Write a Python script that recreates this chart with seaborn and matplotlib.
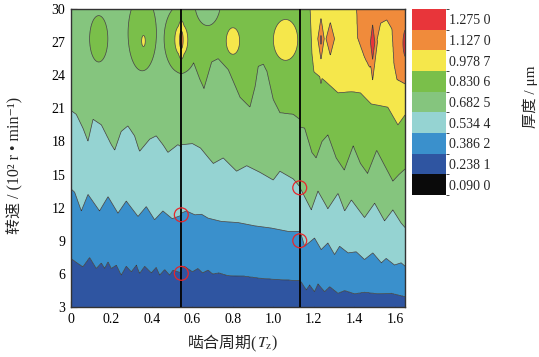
import numpy as np
import matplotlib
matplotlib.use("Agg")
import matplotlib.pyplot as plt
from matplotlib.colors import ListedColormap, BoundaryNorm
import seaborn as sns

sns.set_style("ticks")
plt.rcParams["font.family"] = ["Liberation Serif", "Noto Sans CJK SC", "DejaVu Sans"]
plt.rcParams["mathtext.fontset"] = "stix"

# thickness levels (um) and colours of the colour bar
levels = [0.0900, 0.2381, 0.3862, 0.5344, 0.6825, 0.8306, 0.9787, 1.1270, 1.2750, 1.45]
level_labels = ["0.090 0", "0.238 1", "0.386 2", "0.534 4", "0.682 5",
                "0.830 6", "0.978 7", "1.127 0", "1.275 0"]
colors = ["#0a0a0a", "#2f55a1", "#3a90cc", "#95d3d2", "#85c57e",
          "#7abf4a", "#f5e74b", "#f08b3b", "#e8353a"]

# meshing-period segments (vertical lines at the joins)
seg_edges = [0.0, 0.545, 1.13, 1.65]

# boundary curves: speed (10^2 r/min) where the colour changes
# segment 1
s1_b1_x = [0, .03, .059, .092, .125, .15, .166, .183, .199, .224, .248, .273, .298, .323, .339, .364, .397, .421, .438, .463, .487, .504, .545]
s1_b1_y = [7.4, 7.0, 6.65, 7.5, 6.5, 7.0, 6.5, 7.1, 6.5, 6.8, 5.9, 6.7, 6.2, 6.8, 6.05, 6.7, 6.1, 6.6, 5.9, 6.4, 5.9, 6.35, 6.1]
s1_b2_x = [0, .018, .051, .084, .141, .183, .232, .273, .331, .372, .413, .454, .50, .545]
s1_b2_y = [13.7, 13.4, 11.7, 13.2, 11.7, 13.0, 11.5, 12.6, 11.2, 12.1, 10.9, 11.7, 11.0, 11.3]
s1_b3_x = [0, .026, .059, .084, .109, .15, .199, .216, .248, .281, .314, .331, .339, .389, .421, .454, .479, .528, .545]
s1_b3_y = [20.8, 20.45, 19.2, 18.0, 20.0, 19.5, 17.7, 17.2, 18.9, 19.4, 18.5, 17.5, 17.1, 18.2, 18.5, 17.7, 17.0, 17.7, 17.5]
s1_b4_x, s1_b4_y = [0, .545], [34, 34]
s1_b5_x, s1_b5_y = [0, .545], [36, 36]
s1_b6_x, s1_b6_y = [0, .545], [38, 38]

# segment 2
s2_b1_x = [.545, .56, .6, .627, .65, .677, .7, .73, .775, .857, .94, 1.022, 1.13]
s2_b1_y = [6.5, 6.7, 6.2, 6.5, 6.1, 6.35, 6.0, 6.1, 5.85, 5.8, 5.6, 5.5, 5.4]
s2_b2_x = [.545, .57, .612, .645, .677, .743, .825, .908, .99, 1.072, 1.13]
s2_b2_y = [11.5, 11.7, 11.35, 11.4, 11.05, 10.75, 10.65, 10.35, 10.15, 9.85, 9.85]
s2_b3_x = [.545, .6, .64, .68, .703, .752, .818, .868, .933, .999, 1.032, 1.098, 1.13]
s2_b3_y = [17.7, 17.8, 17.4, 16.5, 16.0, 16.5, 15.3, 15.8, 15.2, 14.5, 15.3, 14.6, 13.9]
s2_b4_x = [.545, .558, .596, .637, .657, .695, .727, .777, .835, .884, .91, .925, .95, .966, .999, 1.032, 1.098, 1.13]
s2_b4_y = [24.5, 25.7, 25.6, 23.6, 22.8, 25.2, 25.5, 24.5, 22.0, 21.1, 23.0, 24.8, 25.0, 24.5, 21.8, 20.6, 20.45, 20.0]
s2_b5_x, s2_b5_y = [.545, 1.13], [36, 36]
s2_b6_x, s2_b6_y = [.545, 1.13], [38, 38]

# segment 3
s3_b1_x = [1.13, 1.137, 1.162, 1.179, 1.203, 1.22, 1.253, 1.278, 1.319, 1.352, 1.401, 1.45, 1.516, 1.582, 1.65]
s3_b1_y = [5.2, 5.3, 4.55, 5.0, 4.4, 5.1, 4.4, 4.85, 4.25, 4.5, 4.2, 4.35, 4.2, 4.25, 3.95]
s3_b2_x = [1.13, 1.137, 1.154, 1.203, 1.236, 1.269, 1.302, 1.327, 1.369, 1.409, 1.45, 1.491, 1.533, 1.557, 1.598, 1.631, 1.65]
s3_b2_y = [9.3, 9.55, 8.5, 9.25, 8.2, 8.8, 7.75, 8.5, 7.9, 8.0, 7.3, 7.9, 7.0, 7.4, 6.8, 7.0, 6.7]
s3_b3_x = [1.13, 1.14, 1.187, 1.22, 1.269, 1.319, 1.352, 1.385, 1.45, 1.5, 1.549, 1.59, 1.631, 1.65]
s3_b3_y = [13.8, 13.5, 11.8, 13.5, 11.9, 13.3, 11.7, 12.7, 11.1, 12.4, 10.8, 11.8, 10.6, 10.2]
s3_b4_x = [1.13, 1.154, 1.19, 1.211, 1.24, 1.269, 1.31, 1.35, 1.394, 1.43, 1.465, 1.51, 1.55, 1.59, 1.62, 1.65]
s3_b4_y = [19.3, 19.2, 17.0, 16.5, 18.0, 18.6, 16.5, 15.4, 17.6, 16.0, 15.1, 17.2, 15.8, 14.4, 15.0, 15.5]
s3_b5_x = [1.13, 1.175, 1.19, 1.2, 1.253, 1.319, 1.385, 1.43, 1.483, 1.565, 1.615, 1.65]
s3_b5_y = [34, 33, 26, 24.3, 23.5, 22.4, 22.5, 22.4, 21.4, 21.1, 19.5, 20.4]
s3_b6_x = [1.13, 1.40, 1.41, 1.415, 1.45, 1.475, 1.50, 1.51, 1.53, 1.56, 1.585, 1.595, 1.61, 1.65]
s3_b6_y = [38, 38, 30.5, 27.4, 25.6, 24.7, 25.0, 27.0, 28.7, 29.0, 28.2, 25.0, 23.6, 23.2]

# closed islands near 2700 r/min: centre, half sizes, level index of their edge
isl_x = [0.137, 0.352, 0.358, 0.545, 0.545, 0.545, 0.80, 1.06, 1.235, 1.235, 1.281, 1.49, 1.665]
isl_y = [27.3, 27.8, 27.1, 27.3, 27.2, 27.2, 27.1, 27.2, 27.3, 27.2, 27.3, 27.0, 26.9]
isl_wx = [0.045, 0.07, 0.009, 0.085, 0.032, 0.009, 0.033, 0.06, 0.016, 0.003, 0.021, 0.011, 0.025]
isl_wy = [2.1, 3.4, 0.5, 3.1, 1.4, 0.8, 1.2, 1.85, 1.9, 0.4, 1.5, 1.6, 1.5]
isl_lvl = [5, 5, 6, 5, 6, 7, 6, 6, 7, 8, 7, 8, 8]
isl_p = [2, 2, 2, 2, 2, 2, 2, 2, 1, 2, 1, 1, 2]
# light green lobe hanging from the top in segment 2
lobe_x, lobe_y, lobe_wx, lobe_wy = [0.675], [30.8], [0.065], [2.3]

# red circles at the segment joins
circ_x = [0.545, 0.545, 1.13, 1.13]
circ_y = [11.35, 6.05, 13.8, 9.0]

x_ticks = [0, 0.2, 0.4, 0.6, 0.8, 1.0, 1.2, 1.4, 1.6]
x_tick_labels = ["0", "0.2", "0.4", "0.6", "0.8", "1.0", "1.2", "1.4", "1.6"]
y_ticks = [3, 6, 9, 12, 15, 18, 21, 24, 27, 30]

segments = [
    [(s1_b1_x, s1_b1_y), (s1_b2_x, s1_b2_y), (s1_b3_x, s1_b3_y), (s1_b4_x, s1_b4_y), (s1_b5_x, s1_b5_y), (s1_b6_x, s1_b6_y)],
    [(s2_b1_x, s2_b1_y), (s2_b2_x, s2_b2_y), (s2_b3_x, s2_b3_y), (s2_b4_x, s2_b4_y), (s2_b5_x, s2_b5_y), (s2_b6_x, s2_b6_y)],
    [(s3_b1_x, s3_b1_y), (s3_b2_x, s3_b2_y), (s3_b3_x, s3_b3_y), (s3_b4_x, s3_b4_y), (s3_b5_x, s3_b5_y), (s3_b6_x, s3_b6_y)],
]

yy = np.linspace(3, 30, 541)
knot_vals = [0.30] + levels[2:8] + [1.2]


def seg_field(k, curves):
    xx = np.linspace(seg_edges[k], seg_edges[k + 1], 330)
    bnds = [np.interp(xx, bx, by) for bx, by in curves]
    Z = np.empty((len(yy), len(xx)))
    for i in range(len(xx)):
        knots = [-10] + [b[i] for b in bnds] + [50]
        Z[:, i] = np.interp(yy, knots, knot_vals)
    X, Y = np.meshgrid(xx, yy)
    for cx, cy, wx, wy in zip(lobe_x, lobe_y, lobe_wx, lobe_wy):
        r2 = ((X - cx) / wx) ** 2 + ((Y - cy) / wy) ** 2
        Z = np.minimum(Z, levels[5] + 0.04 * (r2 - 1))
    for cx, cy, wx, wy, lv, p in zip(isl_x, isl_y, isl_wx, isl_wy, isl_lvl, isl_p):
        r = (np.abs((X - cx) / wx) ** p + np.abs((Y - cy) / wy) ** p) ** (1.0 / p)
        Z = np.maximum(Z, levels[lv] + 0.04 * (1 - r ** 2))
    return X, Y, Z


fig = plt.figure(figsize=(5.39, 3.57), dpi=100)
ax = fig.add_axes([0.1317, 0.1401, 0.6197, 0.8347])

cmap = ListedColormap(colors)
norm = BoundaryNorm(levels, cmap.N)

for k, curves in enumerate(segments):
    X, Y, Z = seg_field(k, curves)
    ax.contourf(X, Y, Z, levels=levels, colors=colors, antialiased=True)
    ax.contour(X, Y, Z, levels=levels[1:-1], colors="#3a3a3a", linewidths=0.5)

for xv in seg_edges[1:3]:
    ax.axvline(xv, color="black", lw=1.3, zorder=4)

ax.scatter(circ_x, circ_y, s=100, facecolors="none", edgecolors="#e8262a",
           linewidths=0.9, zorder=5)

ax.set_xlim(0, 1.65)
ax.set_ylim(3, 30)
ax.set_xticks(x_ticks)
ax.set_xticklabels(x_tick_labels)
ax.set_yticks(y_ticks)
ax.tick_params(direction="in", length=4, width=0.8, labelsize=10, pad=4, colors="black")
for sp in ax.spines.values():
    sp.set_linewidth(1.0)
    sp.set_color("#333333")

cax = fig.add_axes([0.7644, 0.4538, 0.0631, 0.521])
sm = plt.cm.ScalarMappable(norm=norm, cmap=cmap)
centers = [(levels[i] + levels[i + 1]) / 2 for i in range(9)]
cb = fig.colorbar(sm, cax=cax, ticks=centers)
cb.set_ticklabels(level_labels)
cb.ax.tick_params(length=0, labelsize=10, pad=2)
cb.outline.set_visible(False)

fig.text(530 / 539, 1 - 97 / 357, "厚度 / μm", rotation=90, ha="center", va="center", fontsize=11)
fig.text(14 / 539, 1 - 165 / 357, "转速 / (10² r • min⁻¹)", rotation=90,
         ha="center", va="center", fontsize=11.5)
# x label in two pieces so the CJK part stays plain text
fig.text(257 / 539, 1 - 343 / 357, "啮合周期(", ha="right", va="center", fontsize=11.5)
fig.text(257 / 539, 1 - 343 / 357, "$T_{\\mathrm{z}}$)", ha="left", va="center", fontsize=11.5)

fig.savefig("out.png", dpi=100)
